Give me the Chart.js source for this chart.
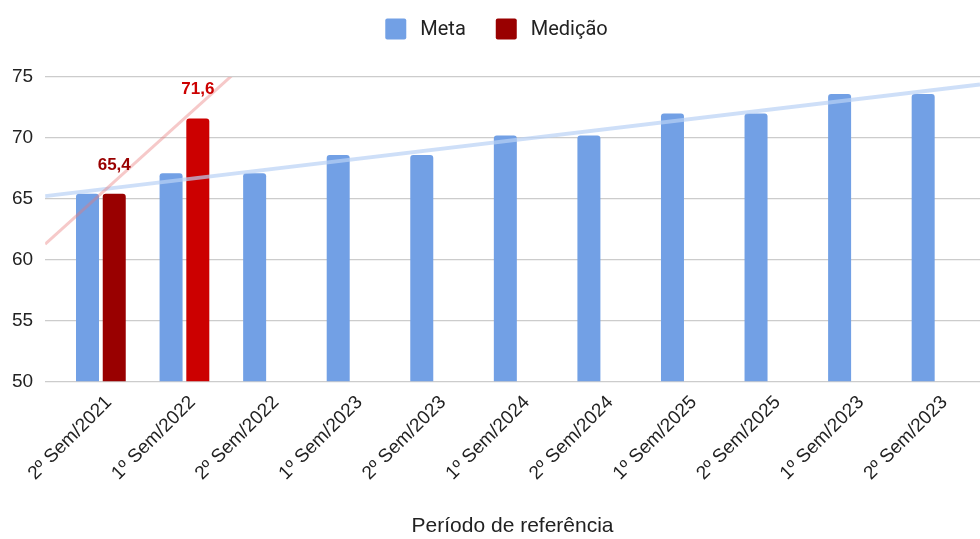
<!DOCTYPE html>
<html lang="pt-BR">
<head>
<meta charset="utf-8">
<script src="https://cdn.jsdelivr.net/npm/chart.js@4.4.1/dist/chart.umd.min.js"></script>
<style>
  html, body { margin: 0; padding: 0; background: #ffffff; }
  #wrap { width: 980px; height: 539px; }
</style>
</head>
<body>
<div id="wrap"><canvas id="c" width="980" height="539"></canvas></div>
<script>
// Períodos de referência (eixo X)
const periodos = ['2º Sem/2021', '1º Sem/2022', '2º Sem/2022', '1º Sem/2023', '2º Sem/2023',
                  '1º Sem/2024', '2º Sem/2024', '1º Sem/2025', '2º Sem/2025', '1º Sem/2023', '2º Sem/2023'];
// Valores da meta por período
const meta = [65.4, 67.1, 67.1, 68.6, 68.6, 70.2, 70.2, 72.0, 72.0, 73.6, 73.6];
// Medições realizadas até agora
const medicao = [65.4, 71.6];
// Marcas do eixo Y
const yTicks = [50, 55, 60, 65, 70, 75];

const COR_META = '#72a0e5';
const CORES_MEDICAO = ['#990000', '#cc0000'];
const TEXTO = '#222222';

const pontos = arr => arr.map((v, i) => ({ x: i, y: v }));

// Linha de tendência linear (mínimos quadrados) para cada série
const tendencia = {
  id: 'tendencia',
  afterDatasetsDraw(chart, args, opts) {
    const { ctx, chartArea, scales: { x, y } } = chart;
    chart.data.datasets.forEach((ds, di) => {
      const cfg = opts.series[di];
      if (!cfg) return;
      const pts = ds.data.filter(p => p.y != null);
      const n = pts.length;
      const mx = pts.reduce((s, p) => s + p.x, 0) / n;
      const my = pts.reduce((s, p) => s + p.y, 0) / n;
      let sxy = 0, sxx = 0;
      pts.forEach(p => { sxy += (p.x - mx) * (p.y - my); sxx += (p.x - mx) ** 2; });
      const b = sxy / sxx, a = my - b * mx;
      const x0 = x.min, x1 = x.max;
      ctx.save();
      ctx.beginPath();
      ctx.rect(chartArea.left, chartArea.top, chartArea.right - chartArea.left, chartArea.bottom - chartArea.top);
      ctx.clip();
      ctx.beginPath();
      ctx.moveTo(x.getPixelForValue(x0), y.getPixelForValue(a + b * x0));
      ctx.lineTo(x.getPixelForValue(x1), y.getPixelForValue(a + b * x1));
      ctx.strokeStyle = cfg.color;
      ctx.lineWidth = cfg.width;
      ctx.lineCap = 'butt';
      ctx.stroke();
      ctx.restore();
    });
  }
};

// Rótulos de valor sobre as barras de medição
const rotulos = {
  id: 'rotulos',
  afterDatasetsDraw(chart) {
    const { ctx } = chart;
    const ds = chart.data.datasets[1];
    const meta1 = chart.getDatasetMeta(1);
    ctx.save();
    ctx.font = 'bold 17px "Liberation Sans", Arial, sans-serif';
    ctx.textAlign = 'center';
    ctx.textBaseline = 'middle';
    meta1.data.forEach((bar, i) => {
      const v = ds.data[i].y;
      ctx.fillStyle = CORES_MEDICAO[i];
      ctx.fillText(v.toFixed(1).replace('.', ','), bar.x, bar.y - 29);
    });
    ctx.restore();
  }
};

// Legenda no topo
const legenda = {
  id: 'legenda',
  afterDraw(chart) {
    const { ctx } = chart;
    const itens = chart.data.datasets.map(ds => ({ texto: ds.label, cor: ds.corLegenda }));
    ctx.save();
    ctx.font = '20px Roboto, "Liberation Sans", sans-serif';
    const caixa = 21, gapTexto = 14, gapItem = 30;
    const larg = itens.map(it => caixa + gapTexto + ctx.measureText(it.texto).width);
    const total = larg.reduce((s, w) => s + w, 0) + gapItem * (itens.length - 1);
    let xx = chart.width / 2 + 6.5 - total / 2;
    const cy = 29;
    ctx.textBaseline = 'middle';
    ctx.textAlign = 'left';
    itens.forEach((it, i) => {
      ctx.fillStyle = it.cor;
      ctx.beginPath();
      ctx.roundRect(xx, cy - caixa / 2, caixa, caixa, 2);
      ctx.fill();
      ctx.fillStyle = TEXTO;
      ctx.fillText(it.texto, xx + caixa + gapTexto, cy + 1);
      xx += larg[i] + gapItem;
    });
    ctx.restore();
  }
};

new Chart(document.getElementById('c'), {
  type: 'bar',
  data: {
    datasets: [
      {
        label: 'Meta',
        data: pontos(meta),
        backgroundColor: COR_META,
        corLegenda: COR_META,
        borderRadius: { topLeft: 3, topRight: 3 },
        borderSkipped: 'start'
      },
      {
        label: 'Medição',
        data: pontos(medicao),
        backgroundColor: CORES_MEDICAO,
        corLegenda: CORES_MEDICAO[0],
        borderRadius: { topLeft: 3, topRight: 3 },
        borderSkipped: 'start'
      }
    ]
  },
  options: {
    responsive: false,
    animation: false,
    devicePixelRatio: 1,
    categoryPercentage: 0.64,
    barPercentage: 0.86,
    layout: { padding: { top: 77, left: 0, right: 0, bottom: 0 } },
    scales: {
      x: {
        type: 'linear',
        min: -0.667,
        max: 10.52,
        offset: false,
        afterBuildTicks: s => { s.ticks = periodos.map((_, i) => ({ value: i })); },
        ticks: {
          autoSkip: false,
          minRotation: 45,
          maxRotation: 45,
          labelOffset: 8,
          padding: 2,
          color: TEXTO,
          font: { family: '"Liberation Sans", Arial, sans-serif', size: 19 },
          callback: v => periodos[v]
        },
        grid: { display: false, offset: false },
        border: { display: false },
        title: {
          display: true,
          text: 'Período de referência',
          color: TEXTO,
          font: { family: '"Liberation Sans", Arial, sans-serif', size: 21 },
          padding: { top: 27, bottom: 0 }
        }
      },
      y: {
        min: 50,
        max: 75,
        afterBuildTicks: s => { s.ticks = yTicks.map(v => ({ value: v })); },
        ticks: {
          padding: 12,
          color: TEXTO,
          font: { family: '"Liberation Sans", Arial, sans-serif', size: 19 }
        },
        grid: { color: '#cccccc', lineWidth: 1.2, drawTicks: false },
        border: { display: false }
      }
    },
    plugins: {
      legend: { display: false },
      tooltip: { enabled: false },
      tendencia: {
        series: [
          { color: 'rgba(185, 210, 245, 0.7)', width: 4 },
          { color: 'rgba(232, 120, 120, 0.4)', width: 3 }
        ]
      }
    }
  },
  plugins: [tendencia, rotulos, legenda]
});
</script>
</body>
</html>
